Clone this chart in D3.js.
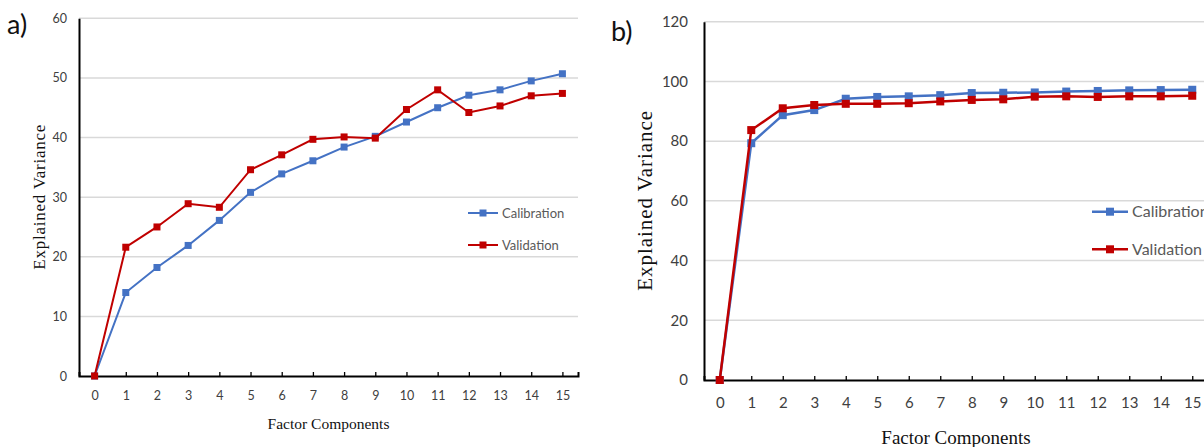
<!DOCTYPE html>
<html lang="en">
<head>
    <meta charset="UTF-8">
    <script src="https://cdn.jsdelivr.net/npm/d3@7"></script>
    <title>Explained Variance</title>
    <style>
        body { margin: 0; background: #fff; overflow: hidden; }
        .grid line { stroke: #d9d9d9; stroke-width: 1.5; }
        .tick text { fill: #404040; font-family: Lato, "Open Sans", sans-serif; }
        .ax-title { font-family: "Liberation Serif", "DejaVu Serif", serif; fill: #111; text-anchor: middle; }
        .legend text { fill: #595959; font-family: Lato, "Open Sans", sans-serif; }
        .panel-label { font-family: Lato, "Open Sans", sans-serif; fill: #111; }
    </style>
</head>
<body>
<script>
    const components = d3.range(0, 16)
    const seriesNames = ["Calibration", "Validation"]
    const colors = ["#4472c4", "#c00000"]

    // panel a
    const calA = [0, 14.0, 18.2, 21.9, 26.1, 30.8, 33.9, 36.1, 38.4, 40.2, 42.6, 45.0, 47.1, 48.0, 49.5, 50.7]
    const valA = [0, 21.6, 25.0, 28.9, 28.3, 34.6, 37.1, 39.7, 40.1, 39.9, 44.7, 48.0, 44.2, 45.3, 47.0, 47.4]
    const yTicksA = [0, 10, 20, 30, 40, 50, 60]

    // panel b
    const calB = [0, 79.3, 88.7, 90.4, 94.2, 94.8, 95.0, 95.4, 96.1, 96.2, 96.3, 96.6, 96.8, 97.0, 97.1, 97.2]
    const valB = [0, 83.7, 91.0, 92.1, 92.5, 92.5, 92.7, 93.3, 93.8, 94.0, 94.9, 95.0, 94.8, 95.0, 95.0, 95.2]
    const yTicksB = [0, 20, 40, 60, 80, 100, 120]

    const svg = d3.select("body").append("svg")
        .attr("width", 1204)
        .attr("height", 447)

    function drawPanel(opt) {
        const g = svg.append("g")
        const x = d3.scalePoint().domain(components).range([opt.left, opt.right]).padding(0.5)
        const y = d3.scaleLinear().domain([0, opt.yMax]).range([opt.bottom, opt.top])

        // gridlines
        g.append("g").classed("grid", true)
            .selectAll("line")
            .data(opt.yTicks.filter(d => d > 0))
            .join("line")
            .attr("x1", opt.left).attr("x2", opt.right)
            .attr("y1", d => y(d)).attr("y2", d => y(d))

        // y axis
        const ya = g.append("g")
            .attr("transform", `translate(${opt.left},0)`)
            .call(d3.axisLeft(y).tickValues(opt.yTicks).tickSize(0).tickPadding(opt.yPad))
        ya.select(".domain").attr("stroke", "#000").attr("stroke-width", 2)
        ya.selectAll("text").attr("font-size", opt.tickFont)

        // x axis, ticks pointing up
        const xa = g.append("g")
            .attr("transform", `translate(0,${opt.bottom})`)
            .call(d3.axisBottom(x).tickSizeInner(-opt.tickLen).tickSizeOuter(-opt.tickLen).tickPadding(opt.xPad))
        xa.select(".domain").attr("stroke", "#000").attr("stroke-width", 2)
        xa.selectAll(".tick line").attr("stroke", "#000").attr("stroke-width", 1.3)
        xa.selectAll("text").attr("font-size", opt.tickFont)

        // series
        const line = d3.line().x((d, i) => x(i)).y(d => y(d))
        const seriesData = [opt.cal, opt.val]
        seriesData.forEach((vals, k) => {
            g.append("path")
                .datum(vals)
                .attr("fill", "none")
                .attr("stroke", colors[k])
                .attr("stroke-width", opt.lineW)
                .attr("d", line)
            g.append("g").selectAll("rect")
                .data(vals)
                .join("rect")
                .attr("x", (d, i) => x(i) - opt.mk / 2)
                .attr("y", d => y(d) - opt.mk / 2)
                .attr("width", opt.mk).attr("height", opt.mk)
                .attr("fill", colors[k])
        })

        // legend
        const lg = g.append("g").classed("legend", true)
        seriesNames.forEach((name, k) => {
            const ly = opt.legY[k]
            lg.append("line")
                .attr("x1", opt.legX).attr("x2", opt.legX + opt.legW)
                .attr("y1", ly).attr("y2", ly)
                .attr("stroke", colors[k]).attr("stroke-width", opt.lineW)
            lg.append("rect")
                .attr("x", opt.legX + opt.legW / 2 - opt.mk / 2)
                .attr("y", ly - opt.mk / 2)
                .attr("width", opt.mk).attr("height", opt.mk)
                .attr("fill", colors[k])
            lg.append("text")
                .attr("x", opt.legX + opt.legW + 4)
                .attr("y", ly)
                .attr("dy", "0.35em")
                .attr("font-size", opt.legFont)
                .text(name)
        })

        // titles
        g.append("text").classed("ax-title", true)
            .attr("x", (opt.left + opt.right) / 2)
            .attr("y", opt.xTitleY)
            .attr("font-size", opt.xTitleFont)
            .text("Factor Components")
        g.append("text").classed("ax-title", true)
            .attr("transform", `translate(${opt.yTitleX},${(opt.top + opt.bottom) / 2}) rotate(-90)`)
            .attr("font-size", opt.yTitleFont)
            .attr("textLength", opt.yTitleLen)
            .attr("lengthAdjust", "spacing")
            .text("Explained Variance")

        g.append("text").classed("panel-label", true)
            .attr("x", opt.labelX).attr("y", opt.labelY)
            .attr("font-size", 27)
            .text(opt.label)
    }

    drawPanel({
        label: "a)", labelX: 7, labelY: 34,
        left: 79, right: 578, top: 18.3, bottom: 376,
        yMax: 60, yTicks: yTicksA, cal: calA, val: valA,
        tickFont: 12.5, yPad: 12, xPad: 15, tickLen: 4,
        lineW: 2, mk: 7,
        legX: 468, legW: 30, legY: [213, 245], legFont: 13,
        xTitleFont: 15.5, yTitleFont: 17, yTitleLen: 145, xTitleY: 429, yTitleX: 45
    })

    drawPanel({
        label: "b)", labelX: 611, labelY: 41,
        left: 704, right: 1208, top: 21.7, bottom: 380,
        yMax: 120, yTicks: yTicksB, cal: calB, val: valB,
        tickFont: 15, yPad: 16, xPad: 17, tickLen: 4,
        lineW: 2.5, mk: 8,
        legX: 1092, legW: 36, legY: [211.7, 249.3], legFont: 16,
        xTitleFont: 19, yTitleFont: 21, yTitleLen: 180, xTitleY: 444, yTitleX: 652
    })
</script>
</body>
</html>
